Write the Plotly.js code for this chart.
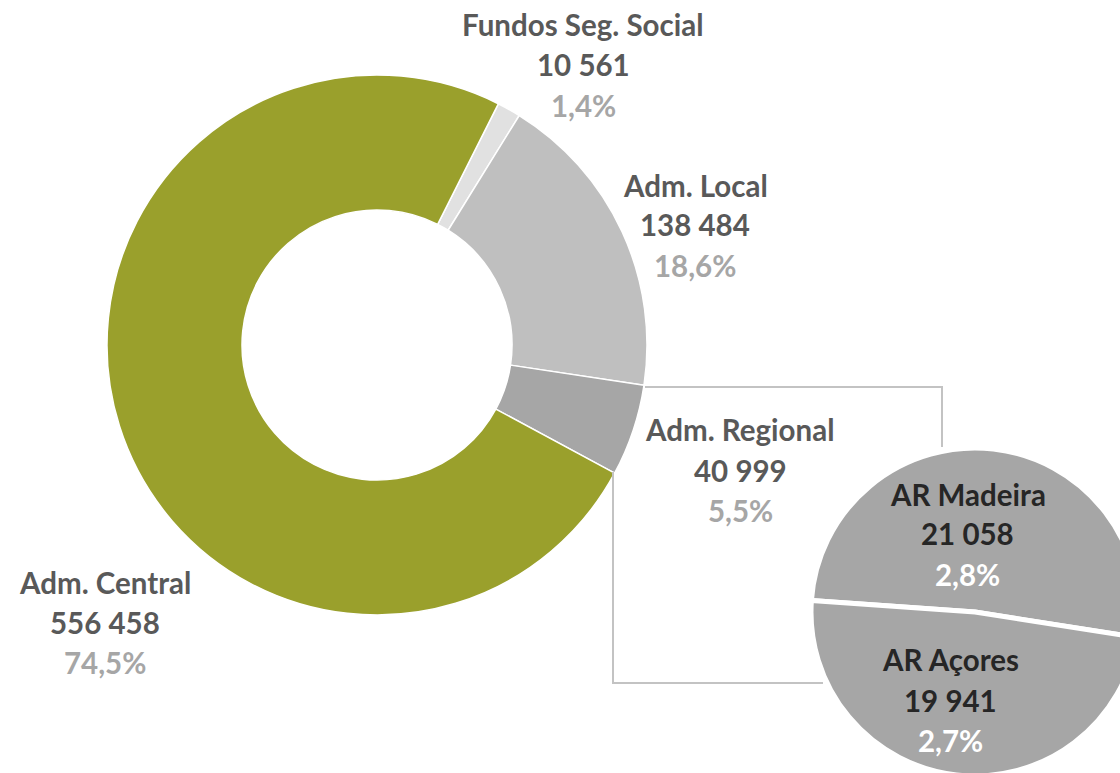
<!DOCTYPE html>
<html>
<head>
<meta charset="utf-8">
<script src="https://cdn.plot.ly/plotly-3.0.1.min.js"></script>
<style>
html,body{margin:0;padding:0;overflow:hidden;background:#fff;width:1120px;height:773px;}
#chart{width:1300px;height:950px;}
</style>
</head>
<body>
<div id="chart"></div>
<script>
// Data
const mainLabels = ["Fundos Seg. Social", "Adm. Local", "Adm. Regional", "Adm. Central"];
const mainValues = [10561, 138484, 40999, 556458];
const mainColors = ["#e1e1e1", "#bfbfbf", "#a6a6a6", "#9aa02c"];
const subLabels = ["AR Madeira", "AR Açores"];
const subValues = [21058, 19941];

const W = 1300, H = 950;
const px = x => x / W;
const py = y => (H - y) / H;

const total = mainValues.reduce((a, b) => a + b, 0);
const fmt = v => String(v).replace(/\B(?=(\d{3})+(?!\d))/g, ' ');
const pct = v => (v / total * 100).toFixed(1).replace('.', ',') + '%';

const FONT = "Lato, 'Open Sans', sans-serif";
const FS = 29.5;

const traces = [
  {
    type: 'pie',
    labels: mainLabels,
    values: mainValues,
    marker: {colors: mainColors, line: {color: '#ffffff', width: 1.5}},
    hole: 0.5,
    sort: false,
    direction: 'clockwise',
    rotation: 26.7,
    textinfo: 'none',
    hoverinfo: 'label+value+percent',
    showlegend: false,
    domain: {x: [px(107), px(647)], y: [py(615), py(75)]}
  },
  {
    type: 'pie',
    labels: subLabels,
    values: subValues,
    marker: {colors: ["#a6a6a6", "#a6a6a6"], line: {color: '#ffffff', width: 5}},
    sort: false,
    direction: 'clockwise',
    rotation: -86,
    textinfo: 'none',
    hoverinfo: 'label+value',
    showlegend: false,
    domain: {x: [px(811), px(1139)], y: [py(776), py(448)]}
  }
];

// label positions (pixel centres of the three lines)
const mainPos = [[583, 25], [695, 185], [740, 430], [105, 582]];
const subPos = [[968, 494], [950, 660]];
const LS = 40;

const annotations = [];
function addLabel(x, y, lines) {
  lines.forEach((ln, i) => {
    annotations.push({
      x: px(x), y: py(y + i * LS), xref: 'paper', yref: 'paper',
      xanchor: 'center', yanchor: 'middle', showarrow: false,
      text: '<b>' + ln.t + '</b>',
      font: {family: FONT, size: FS, color: ln.c, weight: 900}
    });
  });
}
mainLabels.forEach((l, i) => {
  addLabel(mainPos[i][0], mainPos[i][1], [
    {t: l, c: '#595959'},
    {t: fmt(mainValues[i]), c: '#595959'},
    {t: pct(mainValues[i]), c: '#a6a6a6'}
  ]);
});
subLabels.forEach((l, i) => {
  addLabel(subPos[i][0], subPos[i][1], [
    {t: l, c: '#262626'},
    {t: fmt(subValues[i]), c: '#262626'},
    {t: pct(subValues[i]), c: '#ffffff'}
  ]);
});

const shapes = [
  {type: 'path', xref: 'paper', yref: 'paper',
   path: `M ${px(645)} ${py(387)} L ${px(942)} ${py(387)} L ${px(942)} ${py(447)}`,
   line: {color: '#c3c3c3', width: 2}},
  {type: 'path', xref: 'paper', yref: 'paper',
   path: `M ${px(613)} ${py(472)} L ${px(613)} ${py(683)} L ${px(823)} ${py(683)}`,
   line: {color: '#c3c3c3', width: 2}}
];

const layout = {
  width: W, height: H,
  margin: {l: 0, r: 0, t: 0, b: 0},
  paper_bgcolor: '#ffffff',
  plot_bgcolor: '#ffffff',
  showlegend: false,
  annotations: annotations,
  shapes: shapes
};

Plotly.newPlot('chart', traces, layout, {displayModeBar: false, staticPlot: true});
</script>
</body>
</html>
